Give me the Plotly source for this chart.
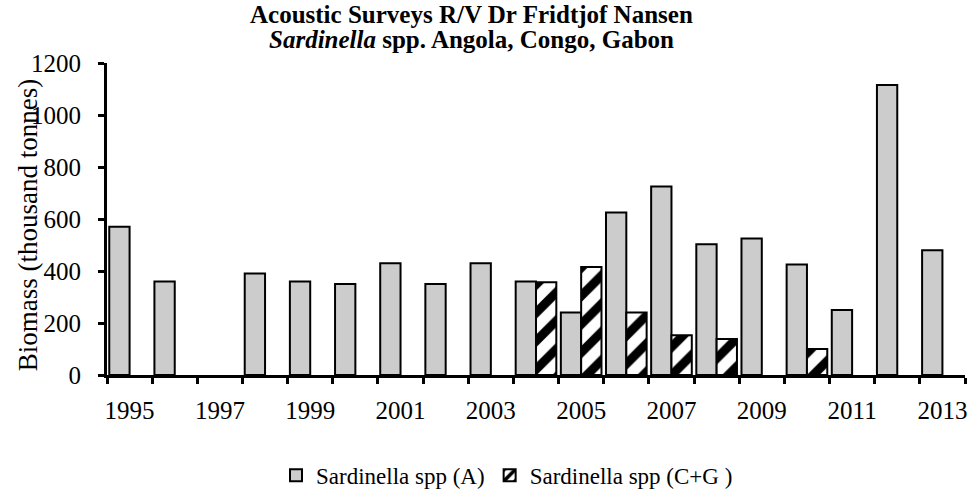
import plotly.graph_objects as go

# Survey years and biomass estimates (thousand tonnes)
years = list(range(1995, 2014))
biomass_a = [570, 360, None, 390, 360, 350, 430, 350, 430, 360,
             240, 625, 725, 503, 525, 425, 250, 1115, 480]
biomass_cg = [None, None, None, None, None, None, None, None, None, 357,
              415, 240, 153, 138, None, 100, None, None, None]
label_years = list(range(1995, 2014, 2))
y_ticks = [0, 200, 400, 600, 800, 1000, 1200]

serif = "Liberation Serif"

fig = go.Figure()
fig.add_trace(go.Bar(
    x=years, y=biomass_a, name="Sardinella spp (A)",
    marker=dict(color="#cccccc", line=dict(color="black", width=2)),
))
fig.add_trace(go.Bar(
    x=years, y=biomass_cg, name="Sardinella spp (C+G )",
    marker=dict(color="white", line=dict(color="black", width=2),
                pattern=dict(shape="/", fgcolor="black", bgcolor="white",
                             fgopacity=1, size=20, solidity=0.45)),
))
# invisible carrier for the label axis
fig.add_trace(go.Scatter(x=[years[0], years[-1]], y=[0, 0], xaxis="x2",
                         mode="markers", marker=dict(opacity=0),
                         showlegend=False, hoverinfo="skip"))

fig.update_layout(
    width=968, height=490,
    margin=dict(l=107, r=3, t=63, b=115),
    paper_bgcolor="white", plot_bgcolor="white",
    barmode="group", bargap=0.1, bargroupgap=0,
    font=dict(family=serif, color="black", size=22),
    xaxis=dict(
        range=[years[0] - 0.5, years[-1] + 0.5],
        tick0=years[0] - 0.5, dtick=1, tickmode="linear",
        showticklabels=False,
        ticks="outside", ticklen=6, tickwidth=3, tickcolor="black",
        showline=True, linecolor="black", linewidth=3,
        showgrid=False, zeroline=False, automargin=False,
    ),
    xaxis2=dict(
        overlaying="x", matches="x", side="bottom", anchor="y",
        tickmode="array", tickvals=label_years,
        ticktext=[str(v) for v in label_years],
        ticks="", showline=False, showgrid=False, zeroline=False,
        ticklabelstandoff=18, automargin=False,
        tickfont=dict(family=serif, size=25),
    ),
    yaxis=dict(
        range=[0, 1200], tickvals=y_ticks,
        ticks="outside", ticklen=6, tickwidth=3, tickcolor="black",
        showline=True, linecolor="black", linewidth=3,
        showgrid=False, zeroline=False, automargin=False,
        ticklabelstandoff=12,
        tickfont=dict(family=serif, size=25),
    ),
    legend=dict(
        orientation="h", x=507 / 968, xanchor="center", xref="container",
        y=0.03, yanchor="middle", yref="container",
        font=dict(family=serif, size=23, color="black"),
        itemsizing="constant",
    ),
    annotations=[
        dict(
            text="<b>Acoustic Surveys R/V Dr Fridtjof Nansen</b>",
            xref="paper", yref="paper", x=0.4254, y=1.156,
            xanchor="center", yanchor="middle", showarrow=False,
            font=dict(family=serif, size=25, color="black"),
        ),
        dict(
            text="<b><i>Sardinella</i> spp. Angola, Congo, Gabon</b>",
            xref="paper", yref="paper", x=0.4254, y=1.074,
            xanchor="center", yanchor="middle", showarrow=False,
            font=dict(family=serif, size=25, color="black"),
        ),
        dict(
            text="Biomass (thousand tonnes)", textangle=-90,
            xref="paper", yref="paper", x=-0.092, y=0.48,
            xanchor="center", yanchor="middle", showarrow=False,
            font=dict(family=serif, size=27, color="black"),
        ),
    ],
)

fig.write_html("out.html")
